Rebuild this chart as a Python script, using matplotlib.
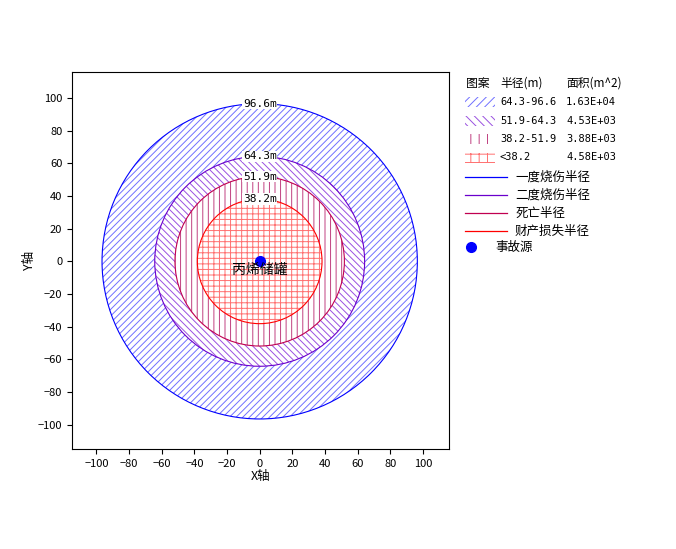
import matplotlib
matplotlib.use("Agg")
import matplotlib.pyplot as plt
from matplotlib.patches import Wedge, Circle, Rectangle

plt.rcParams['font.family'] = ['Noto Sans CJK SC', 'DejaVu Sans']

radii = [96.6, 64.3, 51.9, 38.2]
ranges = ["64.3-96.6", "51.9-64.3", "38.2-51.9", "<38.2"]
areas = ["1.63E+04", "4.53E+03", "3.88E+03", "4.58E+03"]
hatches = ["/////", "\\\\\\\\\\", "|||", "+++"]
leg_hatches = ["////", "\\\\\\\\", "||", "++"]
hatch_colors = ["#7070ff", "#9a50e0", "#c04080", "#ff7070"]
line_colors = ["#0000ff", "#6a00cc", "#c00050", "#ff0000"]
line_names = ["一度烧伤半径", "二度烧伤半径", "死亡半径", "财产损失半径"]
source_name = "丙烯储罐"
ticks = [-100, -80, -60, -40, -20, 0, 20, 40, 60, 80, 100]

plt.rcParams['hatch.linewidth'] = 0.7
fig = plt.figure(figsize=(6.76, 5.49), dpi=100)
ax = fig.add_axes([72 / 676, 100 / 549, 377 / 676, 377 / 549])

for i, r in enumerate(radii):
    inner = radii[i + 1] if i + 1 < len(radii) else 0
    w = Wedge((0, 0), r, 0, 360, width=r - inner, facecolor="none",
              edgecolor=hatch_colors[i], hatch=hatches[i], linewidth=0)
    ax.add_patch(w)
for r, c in zip(radii, line_colors):
    ax.add_patch(Circle((0, 0), r, fill=False, edgecolor=c, linewidth=0.8))
    ax.text(0, r, f"{r}m", ha="center", va="center", fontsize=8,
            family="DejaVu Sans Mono",
            bbox=dict(facecolor="white", edgecolor="none", pad=0.5))
ax.plot(0, 0, "o", color="#0000ff", markersize=7)
ax.text(0, -8, source_name, ha="center", fontsize=10)

ax.set_xlim(-115, 116)
ax.set_ylim(-115, 116)
ax.set_xticks(ticks)
ax.set_yticks(ticks)
ax.tick_params(labelsize=8)
ax.set_xlabel("X轴", fontsize=9, labelpad=1)
ax.set_ylabel("Y轴", fontsize=9, labelpad=1)

# legend drawn in pixel coordinates
lg = fig.add_axes([0, 0, 1, 1])
lg.set_xlim(0, 676)
lg.set_ylim(549, 0)
lg.axis("off")
mono = "DejaVu Sans Mono"
lg.text(466, 83, "图案", fontsize=8.5, va="center")
lg.text(500, 83, "半径(m)", fontsize=8.5, va="center")
lg.text(566, 83, "面积(m^2)", fontsize=8.5, va="center")
for i in range(4):
    y = 102 + i * 18.5
    lg.add_patch(Rectangle((465, y - 5), 30, 10, facecolor="none",
                           edgecolor=hatch_colors[i], hatch=leg_hatches[i], linewidth=0))
    lg.text(500, y, ranges[i], fontsize=7.5, va="center", family=mono)
    lg.text(566, y, areas[i], fontsize=7.5, va="center", family=mono)
for i in range(4):
    y = 177 + i * 18
    lg.plot([465, 507], [y, y], color=line_colors[i], linewidth=0.9)
    lg.text(515, y, line_names[i], fontsize=9, va="center")
lg.plot(471, 247, "o", color="#0000ff", markersize=7)
lg.text(495, 247, "事故源", fontsize=9, va="center")

fig.savefig("out.png", dpi=100)
